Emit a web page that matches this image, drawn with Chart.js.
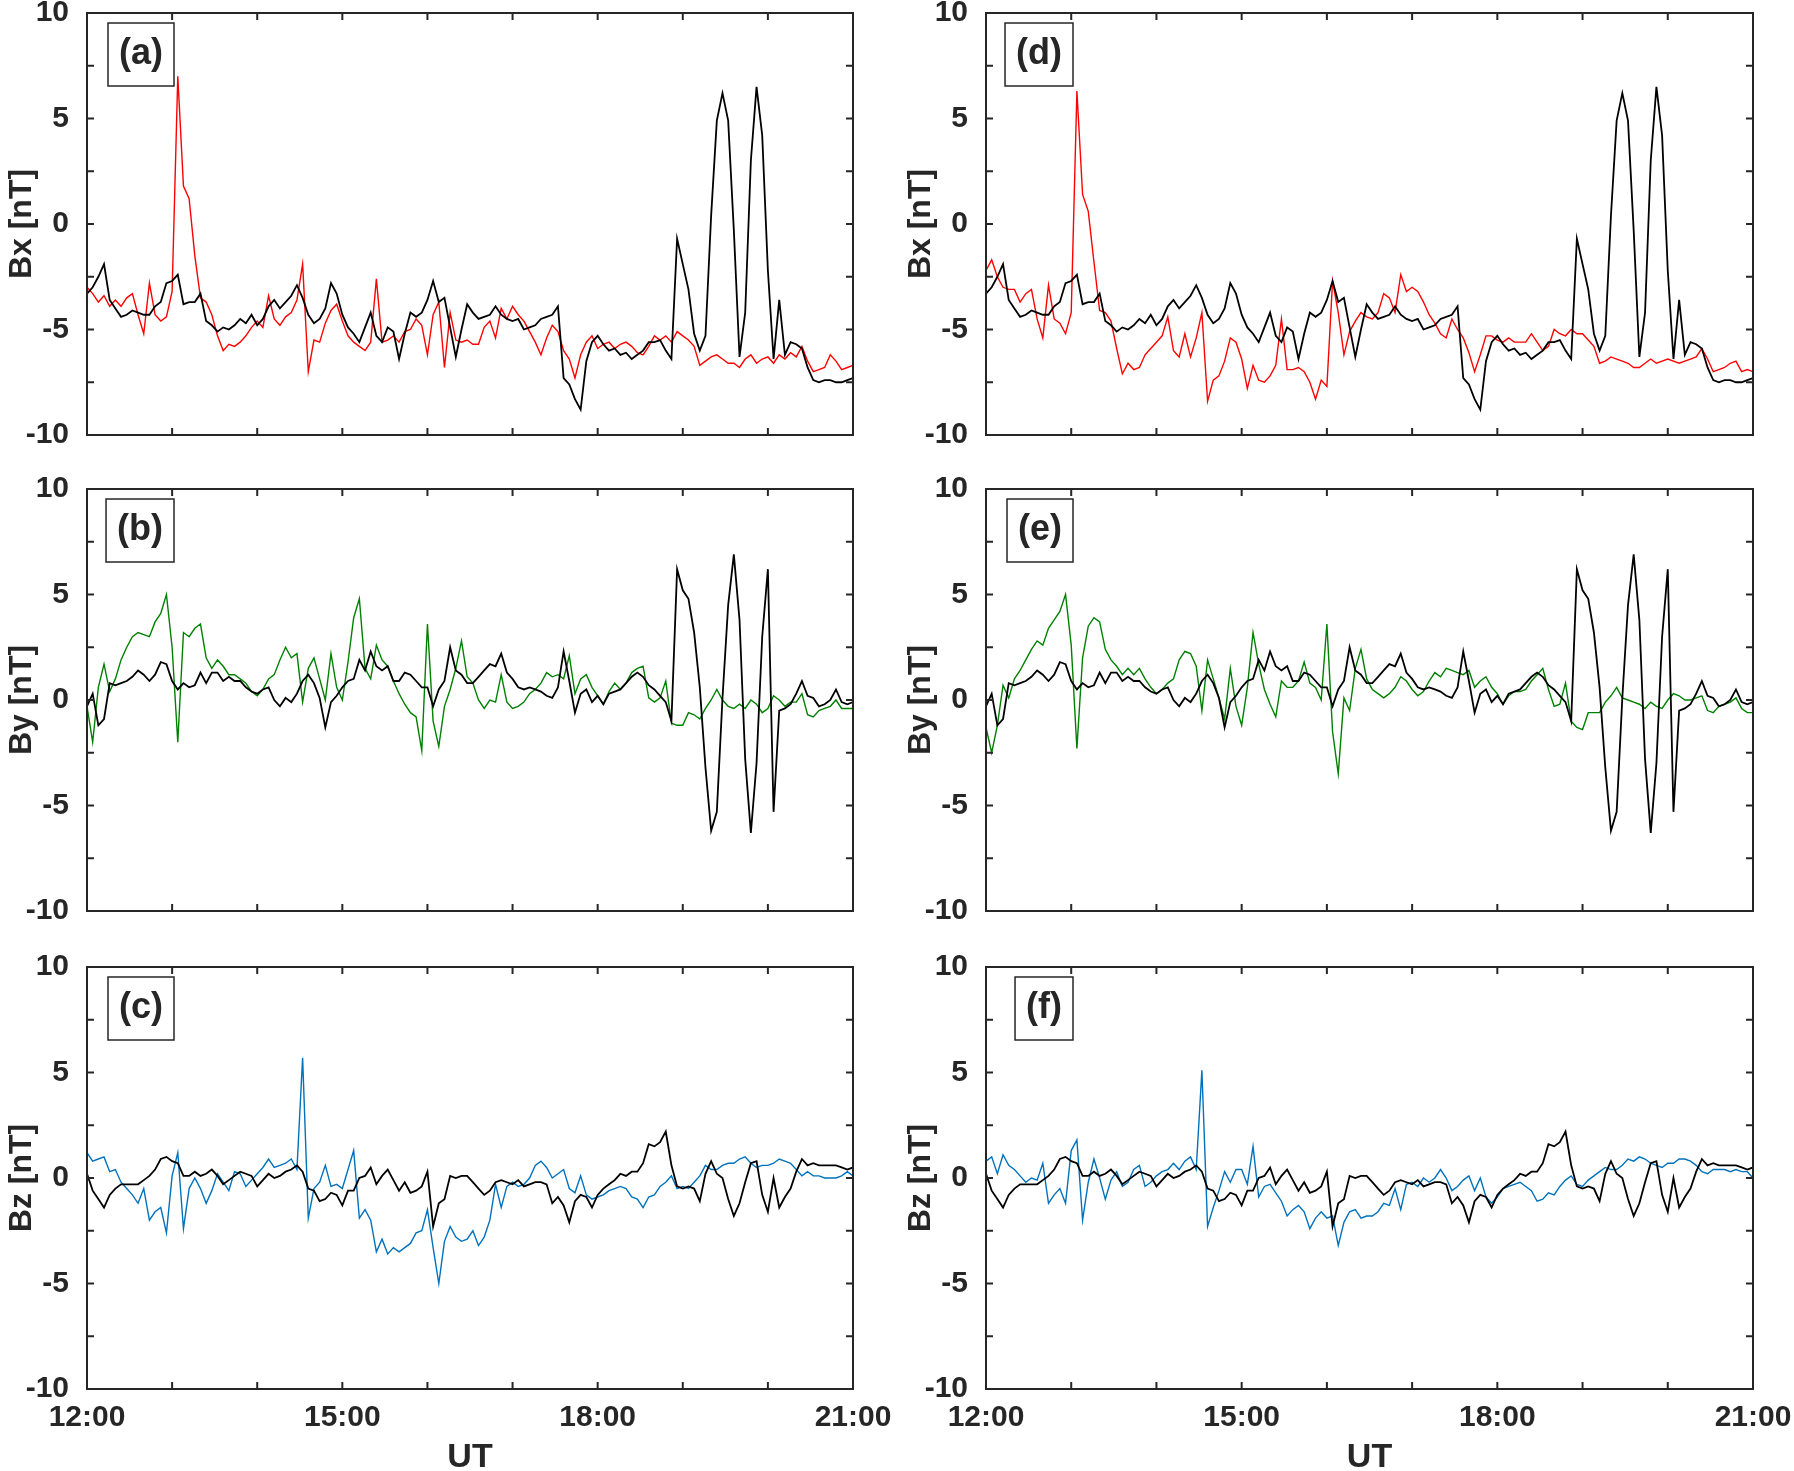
<!DOCTYPE html>
<html>
<head>
<meta charset="utf-8">
<script src="https://cdn.jsdelivr.net/npm/chart.js@4.4.1/dist/chart.umd.min.js"></script>
<style>
  html, body { margin: 0; padding: 0; background: #fff; overflow: hidden; width: 1794px; height: 1471px; }
  canvas { position: absolute; }
</style>
</head>
<body>
<canvas id="pa"></canvas>
<canvas id="pb"></canvas>
<canvas id="pc"></canvas>
<canvas id="pd"></canvas>
<canvas id="pe"></canvas>
<canvas id="pf"></canvas>
<script>
// samples every 4 minutes, 12:00 .. 21:00 UT
const startHour = 12;
const stepMinutes = 4;
const hourLabels = ['12:00', '15:00', '18:00', '21:00'];
const panelTags = ['(a)', '(b)', '(c)', '(d)', '(e)', '(f)'];
const axisTitles = ['Bx [nT]', 'By [nT]', 'Bz [nT]'];

const bxBlack = [
  -3.3, -3.0, -2.5, -1.9, -3.6, -4.0, -4.4, -4.3, -4.1, -4.2,
  -4.3, -4.3, -3.9, -3.7, -2.8, -2.7, -2.4, -3.8, -3.7, -3.7,
  -3.3, -4.6, -4.8, -5.1, -4.9, -5.0, -4.8, -4.5, -4.7, -4.3,
  -4.8, -4.5, -3.9, -3.6, -4.0, -3.7, -3.4, -2.9, -3.5, -4.3,
  -4.7, -4.5, -4.0, -2.8, -3.3, -4.3, -4.9, -5.2, -5.6, -4.9,
  -4.2, -5.3, -5.6, -4.9, -5.1, -6.4, -5.2, -4.2, -4.4, -4.2,
  -3.6, -2.7, -3.7, -3.5, -4.9, -6.3, -5.0, -3.8, -4.2, -4.5,
  -4.4, -4.3, -3.9, -4.3, -4.5, -4.6, -4.5, -5.0, -4.9, -4.8,
  -4.5, -4.4, -4.3, -3.9, -7.3, -7.6, -8.3, -8.8, -6.5, -5.6,
  -5.3, -5.7, -6.0, -5.9, -6.2, -6.1, -6.4, -6.2, -6.0, -5.6,
  -5.6, -5.5, -6.0, -6.4, -0.7, -1.9, -3.1, -5.2, -6.0, -5.3,
  0.4, 4.9, 6.2, 4.9, -0.3, -6.3, -4.2, 3.0, 6.5, 4.2,
  -2.2, -6.4, -3.6, -6.2, -5.6, -5.7, -5.9, -6.8, -7.4, -7.5,
  -7.4, -7.4, -7.5, -7.5, -7.4, -7.3
];

const bxRedA = [
  -3.0, -3.3, -3.7, -3.4, -3.9, -3.6, -3.9, -3.5, -3.3, -4.3,
  -5.2, -2.8, -4.3, -4.6, -4.4, -3.2, 7.0, 1.8, 1.2, -1.5,
  -3.5, -3.7, -4.3, -5.3, -6.0, -5.7, -5.8, -5.6, -5.3, -4.9,
  -4.6, -4.9, -3.4, -4.5, -4.8, -4.4, -4.2, -3.6, -1.9, -7.0,
  -5.5, -5.6, -4.7, -4.1, -3.8, -4.6, -5.3, -5.6, -5.8, -6.0,
  -5.6, -2.6, -5.6, -5.5, -5.3, -5.6, -5.1, -5.0, -4.5, -4.8,
  -6.2, -4.3, -3.7, -6.8, -4.2, -5.5, -5.6, -5.5, -5.7, -5.7,
  -4.9, -4.6, -5.4, -4.0, -4.5, -3.9, -4.3, -4.6, -5.1, -5.6,
  -6.2, -5.4, -4.8, -5.1, -6.0, -6.4, -7.3, -6.2, -5.6, -5.3,
  -5.9, -5.7, -5.6, -5.9, -5.7, -5.6, -5.8, -6.1, -6.2, -5.8,
  -5.3, -5.5, -5.3, -5.6, -5.1, -5.3, -5.5, -5.8, -6.7, -6.5,
  -6.3, -6.2, -6.4, -6.6, -6.6, -6.8, -6.4, -6.2, -6.6, -6.4,
  -6.3, -6.6, -6.2, -6.4, -6.1, -6.3, -5.8, -6.5, -7.0, -6.9,
  -6.8, -6.2, -6.5, -6.9, -6.8, -6.7
];

const bxRedD = [
  -2.2, -1.7, -2.5, -3.0, -3.1, -3.1, -3.7, -3.3, -3.1, -4.5,
  -5.4, -2.9, -4.5, -4.7, -5.2, -4.2, 6.3, 1.4, 0.6, -1.8,
  -4.1, -4.2, -4.6, -5.9, -7.1, -6.6, -6.9, -6.8, -6.2, -5.9,
  -5.6, -5.3, -4.4, -6.0, -6.3, -5.2, -6.3, -5.4, -4.2, -8.4,
  -7.4, -7.2, -6.5, -5.4, -5.6, -6.4, -7.8, -6.7, -7.4, -7.5,
  -7.2, -6.7, -4.5, -6.9, -6.9, -6.8, -7.0, -7.5, -8.3, -7.4,
  -7.7, -2.7, -4.2, -6.2, -5.1, -4.6, -4.2, -4.4, -4.5, -4.2,
  -3.3, -3.5, -4.2, -2.4, -3.2, -3.0, -3.2, -3.7, -4.3, -4.7,
  -5.2, -5.4, -4.5, -5.0, -5.4, -6.1, -7.0, -6.2, -5.3, -5.3,
  -5.5, -5.6, -5.4, -5.6, -5.6, -5.6, -5.2, -5.6, -6.0, -5.8,
  -5.0, -5.2, -5.3, -5.0, -5.2, -5.2, -5.5, -5.8, -6.6, -6.5,
  -6.3, -6.4, -6.5, -6.6, -6.8, -6.8, -6.6, -6.4, -6.6, -6.5,
  -6.4, -6.5, -6.6, -6.5, -6.4, -6.3, -5.9, -6.4, -7.0, -6.9,
  -6.8, -6.6, -6.5, -7.0, -6.9, -7.0
];

const byBlack = [
  -0.3, 0.3, -1.2, -0.9, 0.8, 0.7, 0.8, 0.9, 1.1, 1.4,
  1.2, 0.9, 1.2, 1.8, 1.7, 0.9, 0.5, 0.8, 0.6, 0.7,
  1.3, 0.8, 1.3, 1.3, 0.9, 1.1, 0.9, 0.9, 0.6, 0.4,
  0.3, 0.5, 0.6, 0.0, -0.3, 0.1, -0.1, 0.3, 0.9, 1.2,
  0.8, 0.1, -1.3, -0.1, 0.2, 0.6, 0.9, 1.0, 1.9, 1.4,
  2.3, 1.6, 1.4, 1.6, 0.9, 0.9, 1.3, 1.2, 0.9, 0.6,
  0.6, -0.3, 0.5, 0.9, 2.5, 1.4, 1.2, 0.8, 0.8, 1.1,
  1.4, 1.7, 1.6, 2.2, 1.3, 1.0, 0.6, 0.5, 0.6, 0.5,
  0.4, 0.2, 0.1, 0.6, 2.3, 0.9, -0.6, 0.3, 0.5, -0.1,
  0.2, -0.2, 0.3, 0.4, 0.5, 0.8, 1.1, 1.3, 1.1, 0.7,
  0.5, 0.2, -0.1, -1.0, 6.2, 5.2, 4.8, 3.2, 0.6, -3.2,
  -6.2, -5.3, 0.1, 4.5, 6.9, 3.8, -2.8, -6.3, -3.0, 3.0,
  6.2, -5.3, -0.5, -0.4, -0.2, 0.3, 0.9, 0.2, 0.1, -0.3,
  -0.2, 0.0, 0.5, -0.1, -0.2, -0.1
];

const byGreenB = [
  -0.3, -2.0, 0.6, 1.7, 0.4, 1.0, 1.9, 2.5, 3.0, 3.2,
  3.1, 3.0, 3.7, 4.1, 5.0, 2.5, -2.0, 3.2, 3.0, 3.4,
  3.6, 2.0, 1.5, 1.9, 1.6, 1.2, 1.2, 1.0, 0.8, 0.4,
  0.2, 0.5, 1.0, 1.2, 1.9, 2.5, 2.0, 2.2, -0.1, 1.5,
  2.0, 1.0, 0.0, 2.2, 0.6, 0.0, 1.8, 3.9, 4.8, 1.5,
  1.0, 2.6, 1.9, 1.6, 0.9, 0.3, -0.2, -0.6, -0.8, -2.4,
  3.6, -1.0, -2.2, -0.3, 0.5, 1.5, 2.8, 1.1, 0.8, 0.0,
  -0.4, 0.0, -0.1, 1.2, -0.1, -0.4, -0.3, -0.1, 0.3, 0.5,
  0.8, 1.3, 1.1, 1.2, 1.0, 2.1, 0.3, 1.0, 1.2, 0.6,
  0.2, -0.2, 0.4, 0.8, 0.5, 0.8, 1.3, 1.5, 1.6, 0.1,
  -0.1, 0.1, 0.9, -1.1, -1.2, -1.2, -0.6, -0.7, -0.9, -0.4,
  0.0, 0.5, 0.0, -0.3, -0.4, -0.2, -0.4, 0.0, -0.2, -0.6,
  -0.4, 0.2, 0.0, -0.3, -0.1, -0.1, 0.3, -0.7, -0.8, -0.5,
  -0.4, -0.3, 0.0, -0.4, -0.4, -0.4
];

const byGreenE = [
  -1.3, -2.5, -1.2, 0.7, 0.1, 1.0, 1.4, 1.9, 2.4, 2.8,
  2.6, 3.4, 3.8, 4.2, 5.0, 2.6, -2.3, 2.0, 3.5, 3.9,
  3.7, 2.4, 1.9, 1.6, 1.2, 1.5, 1.2, 1.5, 1.0, 0.6,
  0.3, 0.5, 0.8, 1.0, 1.9, 2.3, 2.2, 1.6, -0.5, 1.9,
  1.0, 0.1, -0.9, 1.5, -0.3, -1.2, 0.6, 3.2, 1.7, 0.5,
  -0.2, -0.8, 0.9, 0.6, 0.6, 0.9, 1.8, 0.8, 0.6, 0.0,
  3.6, -1.5, -3.5, 0.1, -0.5, 1.5, 2.4, 1.0, 0.5, 0.3,
  0.1, 0.3, 0.6, 1.1, 0.9, 0.5, 0.2, 0.4, 0.9, 1.3,
  1.1, 1.5, 1.4, 1.3, 1.2, 1.4, 0.6, 0.9, 1.1, 0.6,
  0.3, -0.2, 0.2, 0.4, 0.4, 0.5, 0.9, 1.2, 1.5, 0.5,
  -0.3, -0.2, 0.8, -1.0, -1.3, -1.4, -0.6, -0.6, -0.6, -0.1,
  0.2, 0.6, 0.1, 0.0, -0.1, -0.2, -0.4, -0.1, -0.3, -0.4,
  0.0, 0.3, 0.2, 0.0, 0.0, 0.1, 0.2, -0.5, -0.6, -0.3,
  -0.2, -0.1, 0.1, -0.4, -0.6, -0.6
];

const bzBlack = [
  0.2, -0.6, -1.0, -1.4, -0.8, -0.5, -0.3, -0.3, -0.3, -0.3,
  -0.1, 0.1, 0.4, 0.9, 1.0, 0.8, 0.7, 0.1, 0.1, 0.3,
  0.1, 0.2, 0.4, 0.1, -0.3, -0.1, 0.1, 0.3, 0.2, 0.1,
  -0.4, -0.1, 0.2, 0.0, 0.1, 0.3, 0.4, 0.6, 0.3, -0.5,
  -0.6, -1.1, -1.0, -0.7, -0.8, -1.3, -0.6, -0.6, 0.0, 0.1,
  0.5, -0.3, 0.1, 0.4, -0.1, -0.6, -0.2, -0.7, -0.6, -0.4,
  0.3, -2.3, -1.2, -1.0, 0.1, 0.0, 0.1, 0.1, -0.2, -0.5,
  -0.8, -0.6, -0.2, -0.1, -0.2, -0.3, -0.1, -0.4, -0.3, -0.2,
  -0.2, -0.3, -1.2, -0.9, -1.3, -2.1, -1.1, -0.8, -0.9, -1.4,
  -0.8, -0.5, -0.3, -0.1, 0.2, 0.1, 0.3, 0.3, 0.7, 1.6,
  1.5, 1.7, 2.2, 0.6, -0.4, -0.5, -0.4, -0.5, -1.1, 0.2,
  0.8, 0.2, 0.0, -1.0, -1.8, -1.2, -0.2, 0.7, 0.8, -0.8,
  -1.6, 0.0, -1.4, -0.9, -0.5, 0.3, 0.9, 0.6, 0.7, 0.6,
  0.6, 0.6, 0.6, 0.5, 0.4, 0.5
];

const bzBlueC = [
  1.2, 0.8, 0.9, 1.0, 0.3, 0.4, -0.2, -0.5, -0.8, -1.2,
  -0.5, -2.0, -1.6, -1.4, -2.6, 0.1, 1.2, -2.4, -0.5, 0.0,
  -0.5, -1.2, -0.6, 0.2, -0.2, -0.6, 0.3, 0.2, -0.4, -0.1,
  0.2, 0.5, 0.9, 0.5, 0.6, 0.7, 0.9, 0.4, 5.7, -1.9,
  -0.5, -0.2, 0.6, -0.4, -0.3, -0.5, 0.4, 1.3, -1.9, -1.5,
  -2.0, -3.5, -2.9, -3.6, -3.3, -3.5, -3.3, -3.1, -2.6, -2.5,
  -1.5, -3.3, -5.0, -3.0, -2.3, -2.8, -3.0, -2.9, -2.5, -3.2,
  -2.8, -2.0, -0.3, -1.4, -0.4, -0.2, -0.4, -0.3, 0.0, 0.6,
  0.8, 0.5, 0.0, 0.2, 0.4, -0.5, -0.7, 0.1, -0.8, -1.0,
  -0.9, -0.8, -0.6, -0.5, -0.4, -0.5, -0.9, -1.0, -1.4, -0.9,
  -0.8, -0.4, -0.2, 0.1, -0.5, -0.4, -0.5, -0.2, 0.1, 0.6,
  0.4, 0.4, 0.6, 0.7, 0.7, 0.9, 1.0, 0.7, 0.5, 0.6,
  0.6, 0.7, 0.9, 0.8, 0.7, 0.4, 0.1, 0.3, 0.1, 0.1,
  0.0, 0.0, 0.0, 0.1, 0.3, 0.1
];

const bzBlueF = [
  0.8, 1.0, 0.2, 1.1, 0.6, 0.4, 0.1, -0.2, 0.0, -0.1,
  0.7, -1.2, -0.8, -0.5, -1.2, 1.3, 1.8, -2.0, -0.2, 0.9,
  0.0, -1.0, -0.1, 0.3, -0.4, -0.2, 0.4, 0.6, -0.4, -0.2,
  0.1, 0.3, 0.4, 0.7, 0.4, 0.8, 1.0, 0.4, 5.1, -2.3,
  -1.4, -0.6, 0.3, -0.2, 0.4, 0.4, -0.3, 1.5, -0.9, -0.4,
  -0.3, -0.7, -1.1, -1.8, -1.5, -1.3, -1.6, -2.4, -1.9, -1.6,
  -1.9, -1.8, -3.2, -2.1, -1.6, -1.5, -1.9, -1.8, -1.8, -1.6,
  -1.2, -1.3, -0.5, -1.5, -0.3, -0.2, -0.4, 0.0, -0.2, 0.0,
  0.4, 0.0, -0.6, -0.4, -0.1, 0.1, -0.6, 0.0, -0.9, -1.2,
  -0.9, -0.5, -0.4, -0.3, -0.2, -0.4, -0.6, -1.1, -1.0, -0.7,
  -0.8, -0.4, -0.1, 0.1, -0.3, -0.4, -0.1, 0.1, 0.3, 0.5,
  0.4, 0.4, 0.6, 0.9, 0.8, 1.0, 0.9, 0.7, 0.6, 0.5,
  0.7, 0.7, 0.9, 0.9, 0.8, 0.6, 0.3, 0.2, 0.4, 0.4,
  0.4, 0.3, 0.4, 0.3, 0.3, 0.0
];

const times = bxBlack.map((_, i) => startHour + i * stepMinutes / 60);
const toPoints = vals => vals.map((v, i) => ({ x: times[i], y: v }));

const ink = '#262626';
const fontFamily = '"Liberation Sans", Arial, Helvetica, sans-serif';

// canvas placement so that every plot area lands where the figure has it
const colLeft = [0, 899];
const colWidth = [908, 909];
const rowTop = [-17, 459, 937];
const rowHeight = [482, 482, 544];
const xAxisHeight = [30, 30, 92];

// inward ticks on all four sides, axis box and the panel letter
const framePlugin = {
  id: 'frame',
  afterDatasetsDraw(chart, args, opts) {
    const { ctx, chartArea: a, scales } = chart;
    ctx.save();
    ctx.strokeStyle = ink;
    ctx.lineWidth = 2;
    ctx.strokeRect(a.left, a.top, a.right - a.left, a.bottom - a.top);
    ctx.beginPath();
    scales.x.ticks.forEach(t => {
      const x = scales.x.getPixelForValue(t.value);
      ctx.moveTo(x, a.bottom); ctx.lineTo(x, a.bottom - 7);
      ctx.moveTo(x, a.top); ctx.lineTo(x, a.top + 7);
    });
    scales.y.ticks.forEach(t => {
      const y = scales.y.getPixelForValue(t.value);
      ctx.moveTo(a.left, y); ctx.lineTo(a.left + 7, y);
      ctx.moveTo(a.right, y); ctx.lineTo(a.right - 7, y);
    });
    ctx.stroke();

    ctx.font = 'bold 36px ' + fontFamily;
    const w = ctx.measureText(opts.tag).width + 22;
    const bx = a.left + 87 - w, by = a.top + 10, bh = 63;
    ctx.fillStyle = '#fff';
    ctx.fillRect(bx, by, w, bh);
    ctx.lineWidth = 1.5;
    ctx.strokeRect(bx, by, w, bh);
    ctx.fillStyle = ink;
    ctx.textAlign = 'center';
    ctx.textBaseline = 'middle';
    ctx.fillText(opts.tag, bx + w / 2, by + bh / 2);
    ctx.restore();
  }
};

const panels = [
  { id: 'pa', col: 0, row: 0, color: '#ff0000', colored: bxRedA, black: bxBlack },
  { id: 'pb', col: 0, row: 1, color: '#008000', colored: byGreenB, black: byBlack },
  { id: 'pc', col: 0, row: 2, color: '#0072bd', colored: bzBlueC, black: bzBlack },
  { id: 'pd', col: 1, row: 0, color: '#ff0000', colored: bxRedD, black: bxBlack },
  { id: 'pe', col: 1, row: 1, color: '#008000', colored: byGreenE, black: byBlack },
  { id: 'pf', col: 1, row: 2, color: '#0072bd', colored: bzBlueF, black: bzBlack }
];

panels.forEach((p, n) => {
  const cv = document.getElementById(p.id);
  const bottomRow = p.row === 2;
  cv.width = colWidth[p.col];
  cv.height = rowHeight[p.row];
  cv.style.left = colLeft[p.col] + 'px';
  cv.style.top = rowTop[p.row] + 'px';

  new Chart(cv, {
    type: 'line',
    data: {
      datasets: [
        { data: toPoints(p.black), borderColor: '#000000', borderWidth: 1.8, pointRadius: 0, tension: 0 },
        { data: toPoints(p.colored), borderColor: p.color, borderWidth: 1.4, pointRadius: 0, tension: 0 }
      ]
    },
    options: {
      responsive: false,
      animation: false,
      events: [],
      layout: { padding: { top: 30, right: 55, left: 0, bottom: 0 } },
      plugins: {
        legend: { display: false },
        tooltip: { enabled: false },
        frame: { tag: panelTags[n] }
      },
      scales: {
        x: {
          type: 'linear',
          min: 12,
          max: 21,
          grid: { display: false },
          border: { display: false },
          ticks: {
            stepSize: 1,
            autoSkip: false,
            maxRotation: 0,
            padding: 3,
            color: ink,
            font: { family: fontFamily, size: 30, weight: 'bold' },
            callback: v => {
              const h = Math.round(v) - startHour;
              return (bottomRow && h % 3 === 0) ? hourLabels[h / 3] : '';
            }
          },
          title: {
            display: bottomRow,
            text: 'UT',
            color: ink,
            font: { family: fontFamily, size: 34, weight: 'bold' },
            padding: { top: 0, bottom: 3 }
          },
          afterFit: s => { s.height = xAxisHeight[p.row]; }
        },
        y: {
          min: -10,
          max: 10,
          grid: { display: false },
          border: { display: false },
          ticks: {
            stepSize: 2.5,
            autoSkip: false,
            padding: 10,
            color: ink,
            font: { family: fontFamily, size: 30, weight: 'bold' },
            callback: v => (v % 5 === 0 ? String(v) : '')
          },
          title: {
            display: true,
            text: axisTitles[p.row],
            color: ink,
            font: { family: fontFamily, size: 32, weight: 'bold' },
            padding: { top: 3, bottom: 0 }
          },
          afterFit: s => { s.width = 87; }
        }
      }
    },
    plugins: [framePlugin]
  });
});
</script>
</body>
</html>
